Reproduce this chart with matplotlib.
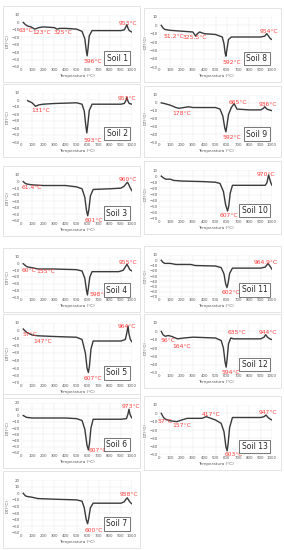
import matplotlib.pyplot as plt
from matplotlib.patches import Rectangle

# DTA curves (temperature in °C, DT in °C)
t1 = [20, 40, 63, 90, 123, 160, 200, 300, 325, 350, 400, 500, 550, 575, 588, 596, 604, 615, 640, 700, 900, 930, 945, 953, 962, 975, 1000]
d1 = [0, -3, -5, -6, -9, -7, -6, -7, -9, -8, -8, -9, -12, -22, -38, -45, -35, -18, -11, -11, -11, -10, -6, -3, -7, -11, -13]

t8 = [20, 35, 51, 100, 200, 300, 315, 325, 340, 360, 400, 500, 560, 575, 585, 592, 600, 615, 640, 900, 935, 954, 970, 985, 1000]
d8 = [0, -3, -5, -6, -7, -8, -11, -13, -10, -8, -10, -11, -14, -22, -33, -37, -30, -17, -14, -14, -13, -10, -13, -16, -17]

t2 = [60, 100, 131, 160, 200, 300, 500, 550, 570, 585, 593, 602, 615, 640, 900, 930, 945, 953, 962, 975, 1000]
d2 = [-1, -4, -9, -7, -6, -5, -4, -6, -16, -38, -47, -35, -15, -6, -6, -5, -1, 4, -1, -5, -6]

t9 = [20, 50, 100, 150, 178, 220, 260, 300, 500, 540, 565, 582, 592, 602, 615, 640, 665, 690, 800, 900, 925, 936, 955, 975, 1000]
d9 = [0, -1, -3, -6, -7, -6, -5, -6, -6, -8, -17, -32, -37, -28, -15, -6, -1, -8, -9, -9, -7, -5, -8, -9, -10]

t3 = [20, 40, 61.4, 100, 200, 400, 500, 550, 575, 590, 601, 612, 625, 650, 800, 900, 930, 948, 960, 972, 985, 1000]
d3 = [0, -3, -4, -5, -6, -6, -8, -11, -24, -44, -52, -42, -22, -12, -11, -10, -7, -3, -1, -5, -10, -14]

t10 = [20, 40, 60, 100, 130, 200, 400, 500, 540, 570, 590, 607, 618, 630, 650, 800, 940, 955, 970, 980, 990, 1000]
d10 = [0, -3, -5, -5, -7, -8, -9, -10, -12, -25, -47, -57, -48, -28, -15, -15, -15, -11, 2, -5, -11, -15]

t4 = [20, 40, 60, 100, 155, 300, 500, 550, 575, 590, 598, 606, 620, 640, 880, 920, 940, 955, 965, 980, 1000]
d4 = [0, -3, -5, -6, -8, -8, -9, -11, -22, -40, -47, -38, -20, -12, -12, -10, -5, -1, -4, -9, -11]

t11 = [20, 35, 50, 100, 150, 280, 320, 500, 550, 575, 590, 602, 612, 625, 650, 900, 940, 955, 964.9, 975, 990, 1000]
d11 = [0, -4, -6, -6, -8, -8, -10, -11, -14, -26, -45, -52, -43, -25, -15, -15, -13, -9, -6, -9, -14, -17]

t5 = [20, 40, 57, 100, 147, 300, 500, 550, 580, 595, 607, 617, 630, 650, 900, 940, 955, 964, 972, 985, 1000]
d5 = [2, -1, -3, -6, -7, -8, -9, -12, -30, -50, -56, -47, -25, -14, -14, -12, -2, 6, -4, -12, -15]

t12 = [20, 35, 56, 80, 110, 164, 220, 300, 500, 550, 570, 585, 594, 603, 615, 635, 660, 700, 900, 930, 944, 960, 980, 1000]
d12 = [0, -4, -6, -5, -6, -9, -8, -7, -8, -11, -20, -37, -43, -33, -15, -8, -9, -9, -9, -7, -4, -7, -9, -10]

t6 = [20, 50, 100, 400, 500, 550, 575, 595, 607, 617, 630, 650, 900, 950, 963, 973, 982, 992, 1000]
d6 = [0, -3, -4, -4, -5, -8, -22, -48, -55, -45, -20, -6, -6, -5, 2, 10, 2, -2, -4]

t13 = [20, 40, 57, 100, 157, 200, 250, 380, 417, 460, 500, 550, 575, 592, 603, 612, 625, 650, 900, 930, 947, 965, 985, 1000]
d13 = [0, -5, -7, -9, -10, -8, -6, -6, -4, -6, -8, -12, -22, -40, -45, -36, -17, -5, -5, -4, -2, -5, -7, -8]

t7 = [20, 40, 60, 100, 150, 300, 500, 550, 570, 588, 600, 610, 625, 650, 900, 930, 945, 958, 968, 985, 1000]
d7 = [0, -4, -5, -6, -8, -9, -10, -12, -22, -40, -46, -38, -22, -15, -15, -13, -9, -7, -10, -14, -16]

# peak labels: text, x, y (data coords of label)
lab1 = [("63°C", -20, -11), ("123°C", 105, -14), ("325°C", 290, -14), ("596°C", 560, -52), ("953°C", 880, -1)]
lab8 = [("51.2°C", 40, -13), ("325.5°C", 210, -15), ("592°C", 560, -44), ("954°C", 890, -7)]
lab2 = [("131°C", 90, -15), ("593°C", 560, -58), ("953°C", 870, 2)]
lab9 = [("178°C", 120, -13), ("665°C", 620, 1), ("592°C", 560, -44), ("936°C", 880, -2)]
lab3 = [("61.4°C", 10, -9), ("601°C", 570, -59), ("960°C", 880, 3)]
lab10 = [("607°C", 540, -65), ("970°C", 860, 3)]
lab4 = [("60°C", 10, -11), ("155°C", 140, -12), ("598°C", 620, -46), ("955°C", 880, 2)]
lab11 = [("602°C", 550, -62), ("964.9°C", 840, -4)]
lab5 = [("57°C", 10, -6), ("147°C", 110, -15), ("607°C", 560, -64), ("964°C", 870, 6)]
lab12 = [("56°C", 10, -11), ("164°C", 120, -18), ("635°C", 610, -2), ("594°C", 550, -50), ("944°C", 880, -1)]
lab6 = [("607°C", 610, -56), ("973°C", 910, 14)]
lab13 = [("57°C", -10, -10), ("157°C", 120, -15), ("417°C", 380, -1), ("603°C", 580, -50), ("947°C", 880, 1)]
lab7 = [("600°C", 570, -56), ("958°C", 890, -2)]

# name, x, y, labels, ymin, ymax, column, top px, bottom px
panels = [
    ("Soil 1", t1, d1, lab1, -60, 10, 0, 15, 67),
    ("Soil 2", t2, d2, lab2, -60, 10, 0, 93, 142),
    ("Soil 3", t3, d3, lab3, -60, 10, 0, 175, 221),
    ("Soil 4", t4, d4, lab4, -50, 10, 0, 257, 297),
    ("Soil 5", t5, d5, lab5, -70, 10, 0, 323, 383),
    ("Soil 6", t6, d6, lab6, -60, 20, 0, 403, 453),
    ("Soil 7", t7, d7, lab7, -60, 20, 0, 480, 533),
    ("Soil 8", t8, d8, lab8, -50, 10, 1, 17, 67),
    ("Soil 9", t9, d9, lab9, -50, 10, 1, 95, 142),
    ("Soil 10", t10, d10, lab10, -70, 10, 1, 170, 219),
    ("Soil 11", t11, d11, lab11, -70, 10, 1, 255, 297),
    ("Soil 12", t12, d12, lab12, -50, 10, 1, 323, 373),
    ("Soil 13", t13, d13, lab13, -50, 10, 1, 405, 455),
]

W, H = 284, 550
fig = plt.figure(figsize=(W / 100, H / 100), dpi=100)
fig.patch.set_facecolor('white')

xcol = [(21, 132), (159, 272)]
boxcol = [(3, 140), (144, 281)]

for name, tx, dy, labs, ymin, ymax, col, top, bot in panels:
    # light frame round each chart
    bx0, bx1 = boxcol[col]
    fig.patches.append(Rectangle((bx0 / W, 1 - (bot + 15) / H), (bx1 - bx0) / W, (bot - top + 24) / H,
                                 transform=fig.transFigure, fill=False, ec='#d9d9d9', lw=0.5))
    x0, x1 = xcol[col]
    ax = fig.add_axes([x0 / W, 1 - bot / H, (x1 - x0) / W, (bot - top) / H])
    ax.plot(tx, dy, color='#3a3a3a', lw=1.0, solid_joinstyle='round')
    ax.set_xlim(0, 1000)
    ax.set_ylim(ymin, ymax)
    ax.set_xticks(range(0, 1001, 100))
    ax.set_yticks(range(ymin, ymax + 1, 10))
    ax.grid(True, color='#e6e6e6', lw=0.3)
    ax.set_axisbelow(True)
    for s in ax.spines.values():
        s.set_visible(False)
    ax.tick_params(length=0, labelsize=2.8, colors='#595959', pad=1)
    ax.set_xlabel("Temperatura (°C)", fontsize=3, color='#595959', labelpad=1)
    ax.set_ylabel("DT(°C)", fontsize=3, color='#595959', labelpad=1)
    for txt, lx, ly in labs:
        ax.text(lx, ly, txt, fontsize=4.3, color='#ff3b3b', va='center', ha='left')
    ax.text(0.96, 0.17, name, transform=ax.transAxes, fontsize=5.5, ha='right', va='center',
            color='#262626', bbox=dict(boxstyle='square,pad=0.3', fc='white', ec='#404040', lw=0.5))

fig.savefig('out.png', dpi=100)
